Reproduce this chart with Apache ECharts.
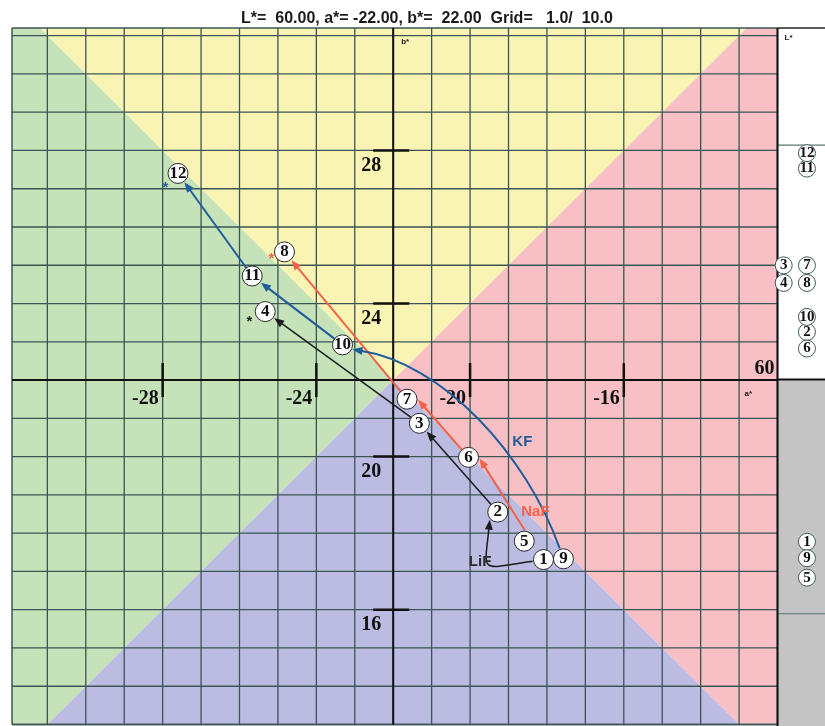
<!DOCTYPE html>
<html>
<head>
<meta charset="utf-8">
<title>CIELAB a*b* diagram</title>
<script src="https://cdn.jsdelivr.net/npm/echarts@6/dist/echarts.min.js"></script>
<style>
  html, body { margin: 0; padding: 0; background: #ffffff; }
  #chart { width: 825px; height: 726px; }
</style>
</head>
<body>
<div id="chart"></div>
<script>
// ---- Data -------------------------------------------------------------
// Sample numbers with their CIELAB coordinates
const sampleIds = [1, 2, 3, 4, 5, 6, 7, 8, 9, 10, 11, 12];
const aStar = [-18.09, -19.28, -21.32, -25.33, -18.59, -20.04, -21.64, -24.83, -17.57, -23.32, -25.67, -27.60];
const bStar = [17.31, 18.55, 20.87, 23.79, 17.79, 19.98, 21.50, 25.35, 17.33, 22.92, 24.72, 27.40];
const lStar = [53.07, 62.03, 64.87, 64.12, 51.54, 61.32, 64.87, 64.12, 52.37, 62.67, 69.00, 69.66];

// Treatment series and the samples each one runs through, in order
const seriesNames = ['LiF', 'NaF', 'KF'];
const seriesPaths = [[1, 2, 3, 4], [5, 6, 7, 8], [9, 10, 11, 12]];

// Star markers, one per series
const starA = [-25.74, -25.17, -27.93];
const starB = [23.59, 25.24, 27.09];

// Diagram centre and grid steps (a*b* grid / L* grid)
const centreL = 60, centreA = -22, centreB = 22;
const gridStep = 1.0, lGridStep = 10.0;

// Tick marks on the centre axes
const aTicks = [-28, -24, -20, -16];
const bTicks = [28, 24, 20, 16];

// ---- Layout & style ---------------------------------------------------
const A_MIN = -31.92, A_MAX = -12, B_MIN = 13, B_MAX = 31.2;
const L_MIN = 45.21, L_MAX = 75;

const lineColors = ['#1c1c1c', '#f2624a', '#1f5d9c'];
const labelColors = ['#2a2a2a', '#f2624a', '#1f5d9c'];
const quadColors = { top: '#faf4b4', left: '#c5e2b8', right: '#f8c0c4', bottom: '#bcbce3' };
const gridColor = '#3a5553';
const serif = '"Liberation Serif", "Times New Roman", serif';
const sans = '"Liberation Sans", Arial, sans-serif';

// Where series-name captions sit (data coordinates)
const captionAt = { LiF: [-19.74, 17.25], NaF: [-18.30, 18.55], KF: [-18.64, 20.38] };

// Curved first legs: directions leaving / entering circles and handle lengths (px)
const curveStyle = {
  LiF: { startDir: [-1, 0.15], endDir: [0.1, -1], endAt: [-0.72, 0.69], h0: 55, h1: 48 },
  KF:  { startDir: [-0.338, -0.941], endDir: [-1, -0.15], endAt: [0.9, 0.42], h0: 100, h1: 85 }
};
// Straight legs that leave / meet a circle off its centre line
const attach = {
  '5-6': { from: [0.05, -1], to: [1, 0.1] },
  '6-7': { to: [1, 0.05] }
};

const panelColumnX = [0.13, 0.62];

// ---- Helpers ----------------------------------------------------------
const fmt = (v, w, d) => v.toFixed(d).padStart(w, ' ');
const titleText = 'L*=' + fmt(centreL, 7, 2) + ', a*=' + fmt(centreA, 7, 2) +
  ', b*=' + fmt(centreB, 7, 2) + '  Grid=' + fmt(gridStep, 6, 1) + '/' + fmt(lGridStep, 6, 1);

function unit(v) { const l = Math.hypot(v[0], v[1]); return [v[0] / l, v[1] / l]; }

// Path segments built from the series paths
const segments = [];
seriesPaths.forEach((path, s) => {
  for (let k = 0; k < path.length - 1; k++) {
    segments.push({ s: s, from: path[k] - 1, to: path[k + 1] - 1, first: k === 0 });
  }
});

// Integer grid lines
const gridLines = [];
for (let v = Math.ceil(A_MIN / gridStep) * gridStep; v <= A_MAX; v += gridStep) gridLines.push([0, v]);
for (let v = Math.ceil(B_MIN / gridStep) * gridStep; v <= B_MAX; v += gridStep) gridLines.push([1, v]);

// Side panel columns: a sample sharing its L* with a later one moves left
const panelData = sampleIds.map((id, i) => {
  const shared = lStar.some((l, j) => j > i && Math.abs(l - lStar[i]) < 0.05);
  return [panelColumnX[shared ? 0 : 1], lStar[i], id];
});

// ---- Renderers --------------------------------------------------------
function renderQuadrants(params, api) {
  const c = api.coord([centreA, centreB]);
  const s = 40;
  const p = (da, db) => api.coord([centreA + da, centreB + db]);
  const tl = p(-s, s), tr = p(s, s), bl = p(-s, -s), br = p(s, -s);
  const poly = (pts, fill) => ({ type: 'polygon', shape: { points: pts }, style: { fill: fill } });
  return { type: 'group', children: [
    poly([c, tl, tr], quadColors.top),
    poly([c, tl, bl], quadColors.left),
    poly([c, tr, br], quadColors.right),
    poly([c, bl, br], quadColors.bottom)
  ] };
}

function renderGridLine(params, api) {
  const cs = params.coordSys;
  const kind = api.value(0), v = api.value(1);
  if (kind === 0) {
    const x = api.coord([v, B_MIN])[0];
    return { type: 'line', shape: { x1: x, y1: cs.y, x2: x, y2: cs.y + cs.height },
      style: { stroke: gridColor, lineWidth: 1.3 } };
  }
  const y = api.coord([A_MIN, v])[1];
  return { type: 'line', shape: { x1: cs.x, y1: y, x2: cs.x + cs.width, y2: y },
    style: { stroke: gridColor, lineWidth: 1.3 } };
}

function renderFrame(params, api) {
  const cs = params.coordSys;
  const c = api.coord([centreA, centreB]);
  const ln = (x1, y1, x2, y2, stroke, w) => ({ type: 'line', shape: { x1, y1, x2, y2 }, style: { stroke, lineWidth: w } });
  return { type: 'group', children: [
    ln(cs.x, cs.y, cs.x + cs.width, cs.y, gridColor, 1.5),
    ln(cs.x, cs.y, cs.x, cs.y + cs.height, gridColor, 1.5),
    ln(cs.x, cs.y + cs.height, cs.x + cs.width, cs.y + cs.height, gridColor, 1.5),
    ln(cs.x + cs.width, cs.y, cs.x + cs.width, cs.y + cs.height + 2, '#111', 2),
    ln(c[0], cs.y, c[0], cs.y + cs.height, '#111', 2),
    ln(cs.x, c[1], cs.x + cs.width, c[1], '#111', 2),
    { type: 'text', style: { text: 'b*', x: c[0] + 8, y: cs.y + 14, font: 'bold 8px ' + sans, fill: '#222', verticalAlign: 'middle' } },
    { type: 'text', style: { text: 'a*', x: cs.x + cs.width - 33, y: c[1] + 14, font: 'bold 8px ' + sans, fill: '#222', verticalAlign: 'middle' } },
    { type: 'text', style: { text: String(centreL), x: cs.x + cs.width - 3, y: c[1] - 11, font: 'bold 20px ' + serif, fill: '#111', align: 'right', verticalAlign: 'middle' } }
  ] };
}

function renderTick(params, api) {
  const kind = api.value(0), v = api.value(1);
  const font = 'bold 20px ' + serif;
  if (kind === 0) {
    const p = api.coord([v, centreB]);
    return { type: 'group', children: [
      { type: 'line', shape: { x1: p[0], y1: p[1] - 17, x2: p[0], y2: p[1] + 17 }, style: { stroke: '#111', lineWidth: 2.5 } },
      { type: 'text', style: { text: String(v), x: p[0] - 4, y: p[1] + 19, font, fill: '#111', align: 'right', verticalAlign: 'middle' } }
    ] };
  }
  const p = api.coord([centreA, v]);
  return { type: 'group', children: [
    { type: 'line', shape: { x1: p[0] - 20, y1: p[1], x2: p[0] + 16, y2: p[1] }, style: { stroke: '#111', lineWidth: 2.5 } },
    { type: 'text', style: { text: String(v), x: p[0] - 12, y: p[1] + 15, font, fill: '#111', align: 'right', verticalAlign: 'middle' } }
  ] };
}

function renderArrow(params, api) {
  const seg = segments[params.dataIndex];
  const name = seriesNames[seg.s];
  const color = lineColors[seg.s];
  const lw = seg.s === 0 ? 1.5 : 2;
  const p0 = api.coord([aStar[seg.from], bStar[seg.from]]);
  const p1 = api.coord([aStar[seg.to], bStar[seg.to]]);
  const R = 11, headLen = 10, headW = 8;
  let tip, dir, body;
  const curve = seg.first ? curveStyle[name] : null;
  if (curve) {
    const sd = unit(curve.startDir), ed = unit(curve.endDir), ea = unit(curve.endAt);
    const start = [p0[0] + sd[0] * R, p0[1] + sd[1] * R];
    tip = [p1[0] + ea[0] * R, p1[1] + ea[1] * R];
    dir = ed;
    const end = [tip[0] - ed[0] * headLen * 0.7, tip[1] - ed[1] * headLen * 0.7];
    body = { type: 'bezierCurve', shape: {
        x1: start[0], y1: start[1], x2: end[0], y2: end[1],
        cpx1: start[0] + sd[0] * curve.h0, cpy1: start[1] + sd[1] * curve.h0,
        cpx2: end[0] - ed[0] * curve.h1, cpy2: end[1] - ed[1] * curve.h1 },
      style: { stroke: color, lineWidth: lw, fill: 'none' } };
  } else {
    const at = attach[sampleIds[seg.from] + '-' + sampleIds[seg.to]] || {};
    const start = at.from ? (u => [p0[0] + u[0] * R, p0[1] + u[1] * R])(unit(at.from)) : p0;
    const target = at.to ? (u => [p1[0] + u[0] * R, p1[1] + u[1] * R])(unit(at.to)) : null;
    if (target) {
      tip = target;
      dir = unit([tip[0] - start[0], tip[1] - start[1]]);
    } else {
      dir = unit([p1[0] - start[0], p1[1] - start[1]]);
      tip = [p1[0] - dir[0] * R, p1[1] - dir[1] * R];
    }
    const end = [tip[0] - dir[0] * headLen * 0.7, tip[1] - dir[1] * headLen * 0.7];
    body = { type: 'line', shape: { x1: start[0], y1: start[1], x2: end[0], y2: end[1] },
      style: { stroke: color, lineWidth: lw } };
  }
  const base = [tip[0] - dir[0] * headLen, tip[1] - dir[1] * headLen];
  const n = [-dir[1], dir[0]];
  const head = { type: 'polygon', shape: { points: [tip,
      [base[0] + n[0] * headW / 2, base[1] + n[1] * headW / 2],
      [base[0] - n[0] * headW / 2, base[1] - n[1] * headW / 2]] },
    style: { fill: color } };
  return { type: 'group', children: [body, head] };
}

function renderStar(params, api) {
  const i = params.dataIndex;
  const p = api.coord([starA[i], starB[i]]);
  return { type: 'text', style: { text: '*', x: p[0], y: p[1] + 3, font: 'bold 15px ' + sans,
    fill: lineColors[i], align: 'center', verticalAlign: 'middle' } };
}

function renderCaption(params, api) {
  const i = params.dataIndex;
  const at = captionAt[seriesNames[i]];
  const p = api.coord(at);
  return { type: 'text', style: { text: seriesNames[i], x: p[0], y: p[1], font: 'bold 15px ' + sans,
    fill: labelColors[i], align: 'center', verticalAlign: 'middle' } };
}

function renderPanel(params, api) {
  const cs = params.coordSys;
  const y0 = api.coord([0, centreL])[1];
  const children = [
    { type: 'rect', shape: { x: cs.x, y: cs.y, width: cs.width, height: y0 - cs.y }, style: { fill: '#ffffff' } },
    { type: 'rect', shape: { x: cs.x, y: y0, width: cs.width, height: cs.y + cs.height - y0 }, style: { fill: '#c4c4c4' } }
  ];
  for (let l = Math.ceil(L_MIN / lGridStep) * lGridStep; l <= L_MAX; l += lGridStep) {
    if (l === centreL) continue;
    const y = api.coord([0, l])[1];
    children.push({ type: 'line', shape: { x1: cs.x, y1: y, x2: cs.x + cs.width, y2: y },
      style: { stroke: '#5a7676', lineWidth: 1.2 } });
  }
  children.push({ type: 'line', shape: { x1: cs.x, y1: y0, x2: cs.x + cs.width, y2: y0 }, style: { stroke: '#111', lineWidth: 2 } });
  children.push({ type: 'line', shape: { x1: cs.x, y1: cs.y, x2: cs.x + cs.width, y2: cs.y }, style: { stroke: '#222', lineWidth: 1.5 } });
  children.push({ type: 'text', style: { text: 'L*', x: cs.x + 7, y: cs.y + 10, font: 'bold 8px ' + sans, fill: '#222', verticalAlign: 'middle' } });
  return { type: 'group', children: children };
}

// ---- Chart ------------------------------------------------------------
const chart = echarts.init(document.getElementById('chart'), null, { renderer: 'canvas' });

const circleLabel = (size) => ({
  show: true, position: 'inside', formatter: p => String(p.value[2]),
  fontFamily: serif, fontWeight: 'bold', fontSize: size, color: '#111'
});

chart.setOption({
  animation: false,
  backgroundColor: '#ffffff',
  title: {
    text: titleText, left: 236, top: 6,
    textStyle: { fontFamily: sans, fontWeight: 'bold', fontSize: 16, color: '#1a1a1a' }
  },
  grid: [
    { left: 12, top: 28, width: 765.5, height: 696.5 },
    { left: 777.5, top: 28, width: 47.5, height: 698 }
  ],
  xAxis: [
    { type: 'value', gridIndex: 0, min: A_MIN, max: A_MAX, show: false },
    { type: 'value', gridIndex: 1, min: 0, max: 1, show: false }
  ],
  yAxis: [
    { type: 'value', gridIndex: 0, min: B_MIN, max: B_MAX, show: false },
    { type: 'value', gridIndex: 1, min: L_MIN, max: L_MAX, show: false }
  ],
  series: [
    { type: 'custom', name: 'quadrants', xAxisIndex: 0, yAxisIndex: 0, clip: true, silent: true, z: 1,
      data: [[centreA, centreB]], renderItem: renderQuadrants },
    { type: 'custom', name: 'grid', xAxisIndex: 0, yAxisIndex: 0, silent: true, z: 2,
      data: gridLines, renderItem: renderGridLine },
    { type: 'custom', name: 'frame', xAxisIndex: 0, yAxisIndex: 0, silent: true, z: 3,
      data: [[centreA, centreB]], renderItem: renderFrame },
    { type: 'custom', name: 'ticks', xAxisIndex: 0, yAxisIndex: 0, silent: true, z: 4,
      data: aTicks.map(v => [0, v]).concat(bTicks.map(v => [1, v])), renderItem: renderTick },
    { type: 'custom', name: 'paths', xAxisIndex: 0, yAxisIndex: 0, silent: true, z: 5,
      data: segments.map((s, i) => [i]), renderItem: renderArrow },
    { type: 'custom', name: 'stars', xAxisIndex: 0, yAxisIndex: 0, silent: true, z: 6,
      data: starA.map((a, i) => [a, starB[i]]), renderItem: renderStar },
    { type: 'custom', name: 'captions', xAxisIndex: 0, yAxisIndex: 0, silent: true, z: 6,
      data: seriesNames.map((n, i) => [i]), renderItem: renderCaption },
    { type: 'scatter', name: 'samples', xAxisIndex: 0, yAxisIndex: 0, z: 7,
      symbol: 'circle', symbolSize: 20,
      itemStyle: { color: '#ffffff', borderColor: '#2a2a2a', borderWidth: 1, opacity: 1 },
      label: circleLabel(17),
      data: sampleIds.map((id, i) => [aStar[i], bStar[i], id]) },
    { type: 'custom', name: 'panel', xAxisIndex: 1, yAxisIndex: 1, silent: true, z: 1,
      data: [[0, centreL]], renderItem: renderPanel },
    { type: 'scatter', name: 'lightness', xAxisIndex: 1, yAxisIndex: 1, z: 7,
      symbol: 'circle', symbolSize: 17,
      itemStyle: { color: '#ffffff', borderColor: '#3f5a5a', borderWidth: 1, opacity: 1 },
      label: circleLabel(15),
      data: panelData }
  ]
});
</script>
</body>
</html>
